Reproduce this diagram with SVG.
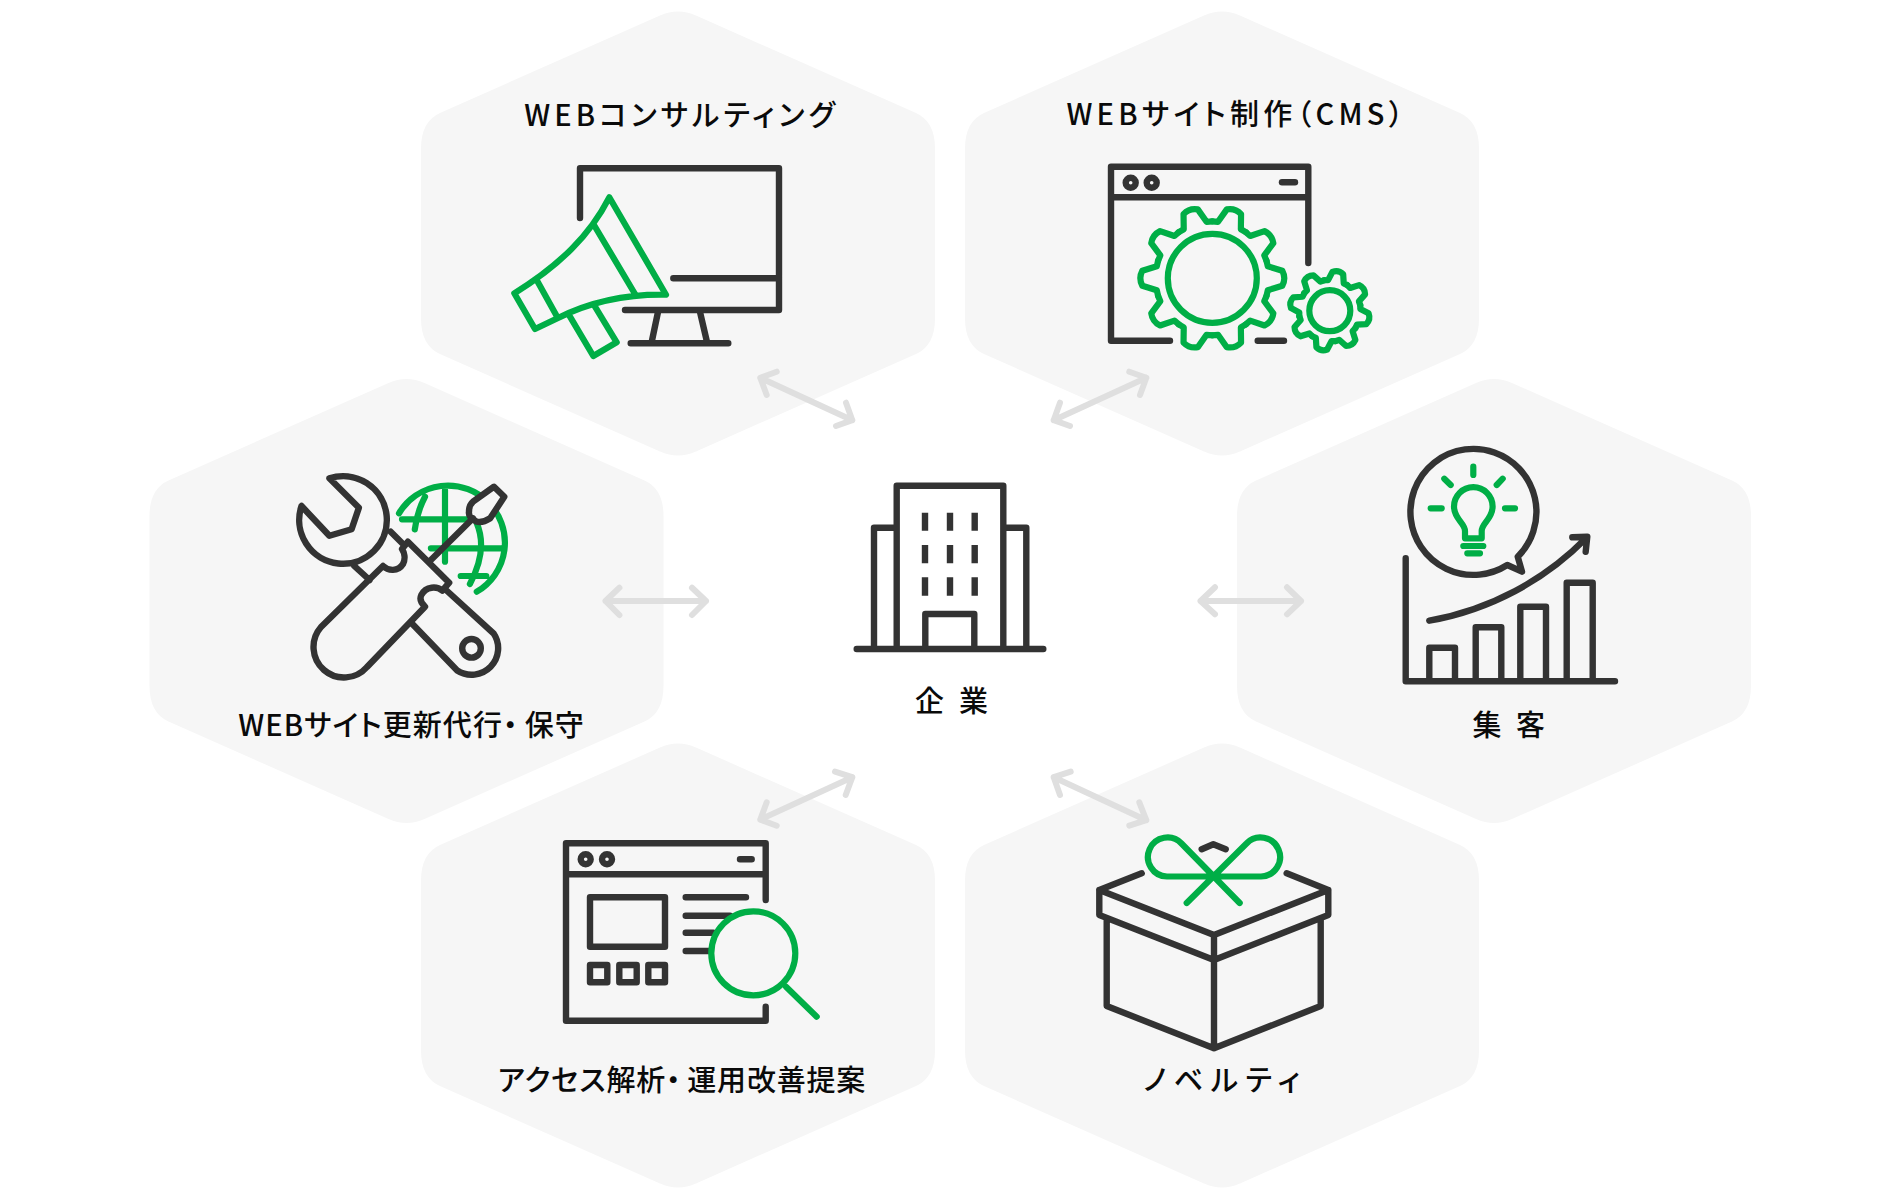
<svg xmlns="http://www.w3.org/2000/svg" xmlns:xlink="http://www.w3.org/1999/xlink" width="1900" height="1200" viewBox="0 0 1900 1200">
<style>
.hex{fill:#f6f6f6}
.d{fill:none;stroke:#333;stroke-width:6.400;stroke-linecap:round;stroke-linejoin:round}
.b{stroke-linecap:butt}
.g{fill:none;stroke:#00ae46;stroke-width:6.200;stroke-linecap:round;stroke-linejoin:round}
.a{fill:none;stroke:#dfdfdf;stroke-width:6;stroke-linecap:round;stroke-linejoin:round}
text{font-family:"Noto Sans CJK JP","Noto Sans",sans-serif;font-weight:500;font-size:29px;fill:#0a0a0a;text-anchor:middle;font-feature-settings:"palt"}
</style>
<defs>
<path id="h" d="M-18,-218 Q0,-226 18,-218 L238,-120.500 Q257,-112 257,-85 V85 Q257,112 238,120.500 L18,218 Q0,226 -18,218 L-238,120.500 Q-257,112 -257,85 V-85 Q-257,-112 -238,-120.500 Z"/>
<path id="t1" d="M54.200,-17.600 L55.500,-12 L70,-7.500 Q74,0 70,7.500 L55.500,12 L54.200,17.600"/>
<path id="t2" d="M28.600,-11.900 L29.500,-8 L38.500,-5.500 Q42,0 38.500,5.500 L29.500,8 L28.600,11.900"/>
</defs>
<g id="node-consulting">
<use href="#h" class="hex" transform="translate(678,233.500)"/>
<text x="681.500" y="126" letter-spacing="4.100">WEBコンサルティング</text>
<path class="d" d="M580,218 V168.300 H779 V310 H625 M673.300,278.300 H779 M658,312 L651.700,342 M700,312 L707,342 M630.700,343.300 H728.300"/>
<path class="g" d="M609.300,197.300 L666,294.700 C625,294 590,302 558,318 L535,329 L514.300,293.300 C560,265 590,235 609.300,197.300 Z M594,225 L635,294 M536.700,280 L556.700,316 M570,316.700 L593.300,356 L616.700,342.300 L595,306.700"/>
</g>
<g id="node-cms">
<use href="#h" class="hex" transform="translate(1222,233.500)"/>
<text x="1237" y="124.500" letter-spacing="4.300">WEBサイト制作（CMS）</text>
<path class="d" d="M1308.300,263 V166.700 H1111 V340.700 H1170 M1257.700,340.700 H1284 M1111,197.300 H1308.300"/>
<circle class="d" cx="1130.700" cy="182.700" r="5"/><circle class="d" cx="1151.700" cy="182.700" r="5"/>
<path class="d" d="M1282,182.300 H1295"/>
<g transform="translate(1212.300,278.300)">
<circle class="g" r="44.500"/>
<use href="#t1" class="g"/><use href="#t1" class="g" transform="rotate(36)"/><use href="#t1" class="g" transform="rotate(72)"/><use href="#t1" class="g" transform="rotate(108)"/><use href="#t1" class="g" transform="rotate(144)"/><use href="#t1" class="g" transform="rotate(180)"/><use href="#t1" class="g" transform="rotate(216)"/><use href="#t1" class="g" transform="rotate(252)"/><use href="#t1" class="g" transform="rotate(288)"/><use href="#t1" class="g" transform="rotate(324)"/>
</g>
<g transform="translate(1329.800,310.700)">
<circle class="g" r="20.500"/>
<use href="#t2" class="g" transform="rotate(12)"/><use href="#t2" class="g" transform="rotate(57)"/><use href="#t2" class="g" transform="rotate(102)"/><use href="#t2" class="g" transform="rotate(147)"/><use href="#t2" class="g" transform="rotate(192)"/><use href="#t2" class="g" transform="rotate(237)"/><use href="#t2" class="g" transform="rotate(282)"/><use href="#t2" class="g" transform="rotate(327)"/>
</g>
</g>
<g id="node-maintenance">
<use href="#h" class="hex" transform="translate(406.500,601)"/>
<text x="411.500" y="736" letter-spacing="1.100">WEBサイト更新代行・<tspan dx="6">保守</tspan></text>
<path class="g" d="M399,513.300 A57,57 0 1 1 476.800,591.700 M445,490 V561.700 M425,496.700 Q417,512 414.800,529.300 M476.800,523.300 Q488,550 469.900,584 M402,519.300 H473 M430.900,548.300 H501.600 M460.700,576 H486.300"/>
<path class="d" style="fill:#f6f6f6" d="M494,486.700 L504.300,496.700 L490.200,518.300 Q483,523 476.800,521.700 Q468,518 469,511.700 Q469,505 473,501.700 Z"/>
<path class="d" d="M430.900,560 L473,518.300 M329.400,478.300 L358.900,507.700 L351.600,529.300 L329.400,535.700 L301.500,506 A43.800,43.800 0 1 0 329.400,478.300 Z M390.700,531.700 L404,545 M354.300,566 L369.600,580 M446,590 L493.500,633.300 A26.500,26.500 0 0 1 457.200,670.500 L411.700,623.300 M321,627 L383,566 C388,571 398,572 403,564 C406,558 404,552 402,549 L407.900,541.700 L449.200,582.700 L442.300,590.700 C437,586 426,586 421.300,595 C419,600 422,604 425,606.700 L367,667 A30,30 0 0 1 321,627 Z"/>
<circle class="d" cx="471.500" cy="648.300" r="9.300"/>
</g>
<g id="node-company">
<path class="d" d="M896.700,646.700 V485.700 H1003.300 V646.700 M874,648 V527.700 H895 M1005,527.700 H1026.300 V648 M856.700,649 H1043.300 M925.300,648 V614 H974.300 V648"/>
<path class="d b" d="M925,512.700 V530.700 M950,512.700 V530.700 M974.700,512.700 V530.700 M925,545 V563.300 M950,545 V563.300 M974.700,545 V563.300 M925,577.300 V595.700 M950,577.300 V595.700 M974.700,577.300 V595.700"/>
<text x="959" y="711.500" letter-spacing="15">企業</text>
</g>
<g id="node-marketing">
<use href="#h" class="hex" transform="translate(1494,601)"/>
<path class="d" d="M1405.700,558.300 V681.300 H1615 M1429.300,681 V647.700 H1455 V681 M1475.700,681 V627.300 H1501.300 V681 M1520.300,681 V606.700 H1546 V681 M1566.700,681 V582.700 H1592.700 V681 M1429.300,620.700 C1490,610 1545,580 1586,538.300 M1572.300,537.300 L1587.300,536.700 L1585.700,551.700 M1507.300,565 A63,63 0 1 1 1517.700,556.700 L1522,571.700 Z"/>
<path class="g" d="M1465,538.300 V531 C1465,523 1454,519 1454,506.500 A19.300,19.300 0 1 1 1492.600,506.500 C1492.600,519 1481.700,523 1481.700,531 V538.300 Z M1463.300,546 H1483.300 M1467.300,553.300 H1480 M1473.300,466.700 V475 M1444.300,478.700 L1450.700,485 M1502.700,478.700 L1496.700,485 M1430.700,508.300 H1441.700 M1505,508.300 H1515"/>
<text x="1516" y="736" letter-spacing="14.500">集客</text>
</g>
<g id="node-analysis">
<use href="#h" class="hex" transform="translate(678,965.500)"/>
<path class="d" d="M765.700,900 V843.300 H566 V1020.700 H765.700 V1006.700 M566,874.300 H765.700 M590,897.300 H665 V946.700 H590 Z M590,965 H607.300 V982.300 H590 Z M619.300,965 H636.700 V982.300 H619.300 Z M648.300,965 H665 V982.300 H648.300 Z M685.700,897.300 H746 M685.700,915.700 H730 M685.700,932.700 H713.300 M685.700,951 H710 M740,859.300 H751.700"/>
<circle class="d" cx="585.700" cy="859.300" r="5"/><circle class="d" cx="607" cy="859.300" r="5"/>
<circle class="g" cx="753.300" cy="953.300" r="42"/>
<path class="g" d="M786,986.700 L816.700,1016.700"/>
<text x="682" y="1091" letter-spacing="0.800">アクセス解析・<tspan dx="6">運用改善提案</tspan></text>
</g>
<g id="node-novelty">
<use href="#h" class="hex" transform="translate(1222,965.500)"/>
<path class="d" d="M1141.700,873.300 L1099.300,890 L1214,935 L1328.300,890 L1286.700,873.300 M1099.300,890 V915 L1214,960 L1328.300,915 V890 M1214,935 V1048.300 M1106.700,918.300 V1006 L1214,1048.300 L1320.700,1006 V918.300 M1201.700,849.300 L1213.300,844.300 L1225.700,849.300"/>
<path class="g" d="M1239.700,903 L1181.500,843.500 A19.500,19.500 0 1 0 1167,876.500 H1261 A19.500,19.500 0 1 0 1246.500,843.500 L1186.700,903"/>
<text x="1225.500" y="1091" letter-spacing="7.500">ノベルティ</text>
</g>
<g id="connectors">
<path class="a" d="M760.300,377.800 L852.300,420.200 M776.700,371.700 L760.300,377.800 L766.700,395 M836,426 L852.300,420.200 L846,402.700"/>
<path class="a" d="M1146.300,377.800 L1053.700,420.200 M1129.300,371.700 L1146.300,377.800 L1140,395 M1070,426 L1053.700,420.200 L1060,402.700"/>
<path class="a" d="M605.500,601 H706 M619.400,587.700 L605.500,601 L619.400,615 M692,587.700 L706,601 L692,615"/>
<path class="a" d="M1200.500,601 H1301 M1215,587.300 L1200.500,601 L1215,614.300 M1287,587.300 L1301,601 L1287,614.300"/>
<path class="a" d="M852.300,777.200 L760.300,819.600 M835,771.700 L852.300,777.200 L845.700,795 M776.700,825.700 L760.300,819.600 L766.700,802.300"/>
<path class="a" d="M1053.700,777.200 L1146.300,820.200 M1070.700,771.700 L1053.700,777.200 L1060,795 M1129.300,825.700 L1146.300,820.200 L1139.300,802.300"/>
</g>
</svg>
